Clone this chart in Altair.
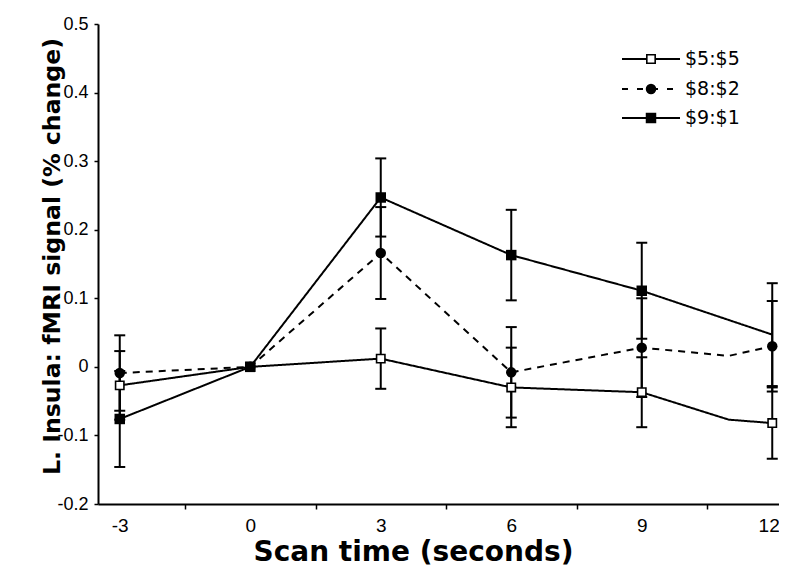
import altair as alt
import pandas as pd

series_names = ["$5:$5", "$8:$2", "$9:$1"]

# line vertices (seconds, % change)
line_t_a = [-3, 0, 3, 6, 9, 11, 12]
line_v_a = [-0.027, 0.0, 0.012, -0.030, -0.037, -0.077, -0.082]
line_t_b = [-3, 0, 3, 6, 9, 11, 12]
line_v_b = [-0.009, 0.0, 0.166, -0.008, 0.028, 0.016, 0.030]
line_t_c = [-3, 0, 3, 6, 9, 12]
line_v_c = [-0.076, 0.0, 0.247, 0.163, 0.111, 0.047]

# markers and error bars
scan_times = [-3, 0, 3, 6, 9, 12]
mean_a = [-0.027, 0.0, 0.012, -0.030, -0.037, -0.082]
sem_a = [0.050, 0.0, 0.044, 0.058, 0.051, 0.052]
mean_b = [-0.009, 0.0, 0.166, -0.008, 0.028, 0.030]
sem_b = [0.055, 0.0, 0.067, 0.066, 0.072, 0.066]
mean_c = [-0.076, 0.0, 0.247, 0.163, 0.111, 0.047]
sem_c = [0.070, 0.0, 0.057, 0.066, 0.070, 0.075]
marker_shown_c = [True, True, True, True, True, False]

x_label_values = [-3, 0, 3, 6, 9, 12]
x_tick_values = [-2.5, -1.5, -0.5, 0.5, 1.5, 2.5, 3.5, 4.5, 5.5, 6.5, 7.5, 8.5, 9.5, 10.5, 11.5]
y_tick_values = [-0.2, -0.1, 0.0, 0.1, 0.2, 0.3, 0.4, 0.5]

FONT = "Liberation Sans"
WIDE = "DejaVu Sans"

lines = pd.concat([
    pd.DataFrame({"t": line_t_a, "v": line_v_a, "series": series_names[0]}),
    pd.DataFrame({"t": line_t_b, "v": line_v_b, "series": series_names[1]}),
    pd.DataFrame({"t": line_t_c, "v": line_v_c, "series": series_names[2]}),
], ignore_index=True)

pts = pd.concat([
    pd.DataFrame({"t": scan_times, "m": mean_a, "e": sem_a, "series": series_names[0], "shown": True}),
    pd.DataFrame({"t": scan_times, "m": mean_b, "e": sem_b, "series": series_names[1], "shown": True}),
    pd.DataFrame({"t": scan_times, "m": mean_c, "e": sem_c, "series": series_names[2], "shown": marker_shown_c}),
], ignore_index=True)
pts["lo"] = pts["m"] - pts["e"]
pts["hi"] = pts["m"] + pts["e"]

PW, PH = 681, 480
x_scale = alt.Scale(domain=[-3.5, -3.5 + PW / 43.5], nice=False, zero=False)
y_scale = alt.Scale(domain=[-0.2, 0.5], nice=False, zero=False)

x_axis = alt.Axis(
    values=x_tick_values + x_label_values,
    labelExpr="datum.value % 3 == 0 ? '' + datum.value : ''",
    tickOpacity={"condition": {"test": "datum.value % 1 == 0", "value": 0}, "value": 1},
    labelAlign={"condition": {"test": "datum.value == 12", "value": "right"}, "value": "center"},
    labelOffset={"condition": {"test": "datum.value == 12", "value": 7}, "value": 0},
    tickSize=5, tickWidth=1.5, tickColor="black",
    domainColor="black", domainWidth=2,
    labelFont=FONT, labelFontSize=19, labelColor="black", labelPadding=7,
    labelOverlap=False, labelFlush=False,
    title="Scan time (seconds)", titleFont=WIDE, titleFontSize=28, titleFontWeight="bold",
    titleColor="black", titleX=315, titleY=56, titleAlign="center", titleBaseline="alphabetic",
    grid=False,
)
y_axis = alt.Axis(
    values=y_tick_values,
    labelExpr="abs(datum.value) < 1e-9 ? '0' : (datum.value < 0 ? '-' + format(-datum.value, '.1f') : format(datum.value, '.1f'))",
    tickSize=4, tickWidth=1.5, tickColor="black",
    domainColor="black", domainWidth=2,
    labelFont=FONT, labelFontSize=18, labelColor="black", labelPadding=6,
    title="L. Insula: fMRI signal (% change)", titleFont=WIDE, titleFontSize=23.6,
    titleFontWeight="bold", titleColor="black", titleX=-39, titleY=232,
    titleAlign="center", titleBaseline="alphabetic", titleAngle=270,
    grid=False,
)

X = alt.X("t:Q", scale=x_scale, axis=x_axis)
Xn = alt.X("t:Q", scale=x_scale)

line_layer = alt.Chart(lines).mark_line(color="black", strokeWidth=2).encode(
    x=X,
    y=alt.Y("v:Q", scale=y_scale, axis=y_axis),
    detail="series:N",
    order="t:Q",
    strokeDash=alt.StrokeDash("series:N", scale=alt.Scale(domain=series_names, range=[[1, 0], [7, 6], [1, 0]]), legend=None),
)

err = alt.Chart(pts).transform_filter("datum.e > 0")
err_rule = err.mark_rule(color="black", strokeWidth=2).encode(x=Xn, y=alt.Y("lo:Q", scale=y_scale), y2="hi:Q")
cap_lo = err.mark_tick(orient="horizontal", color="black", thickness=2, size=11, opacity=1).encode(x=Xn, y=alt.Y("lo:Q", scale=y_scale))
cap_hi = err.mark_tick(orient="horizontal", color="black", thickness=2, size=11, opacity=1).encode(x=Xn, y=alt.Y("hi:Q", scale=y_scale))

mk_b = alt.Chart(pts).transform_filter(alt.datum.series == series_names[1]).mark_point(
    shape="circle", filled=True, color="black", size=110, opacity=1).encode(x=Xn, y=alt.Y("m:Q", scale=y_scale))
mk_a = alt.Chart(pts).transform_filter(alt.datum.series == series_names[0]).mark_point(
    shape="square", filled=True, fill="white", stroke="black", strokeWidth=1.6, size=70, opacity=1).encode(x=Xn, y=alt.Y("m:Q", scale=y_scale))
mk_c = alt.Chart(pts).transform_filter((alt.datum.series == series_names[2]) & alt.datum.shown).mark_point(
    shape="square", filled=True, color="black", size=110, opacity=1).encode(x=Xn, y=alt.Y("m:Q", scale=y_scale))

# legend (drawn in pixel space, top right)
one = pd.DataFrame({"k": [0]})
leg_layers = []
leg_y = [35, 65, 94]
leg_dash = [[1, 0], [6, 9], [1, 0]]
for i, name in enumerate(series_names):
    base = alt.Chart(one)
    leg_layers.append(base.mark_rule(color="black", strokeWidth=2, strokeDash=leg_dash[i]).encode(
        x=alt.value(524), x2=alt.value(582), y=alt.value(leg_y[i])))
    leg_layers.append(base.mark_text(align="left", baseline="middle", font=WIDE, fontSize=19, color="black").encode(
        x=alt.value(587), y=alt.value(leg_y[i]), text=alt.value(name)))
leg_layers.append(alt.Chart(one).mark_point(shape="square", filled=True, fill="white", stroke="black", strokeWidth=1.6, size=70, opacity=1).encode(
    x=alt.value(553), y=alt.value(leg_y[0])))
leg_layers.append(alt.Chart(one).mark_point(shape="circle", filled=True, color="black", size=110, opacity=1).encode(
    x=alt.value(553), y=alt.value(leg_y[1])))
leg_layers.append(alt.Chart(one).mark_point(shape="square", filled=True, color="black", size=110, opacity=1).encode(
    x=alt.value(553), y=alt.value(leg_y[2])))

chart = alt.layer(line_layer, err_rule, cap_lo, cap_hi, mk_b, mk_a, mk_c, *leg_layers).properties(
    width=PW, height=PH,
    autosize=alt.AutoSizeParams(type="none"),
    padding={"left": 90, "top": 16, "right": 0, "bottom": 62},
    background="white",
).configure_view(stroke=None)

chart.save("out.html", embed_options={"renderer": "svg", "actions": False})
